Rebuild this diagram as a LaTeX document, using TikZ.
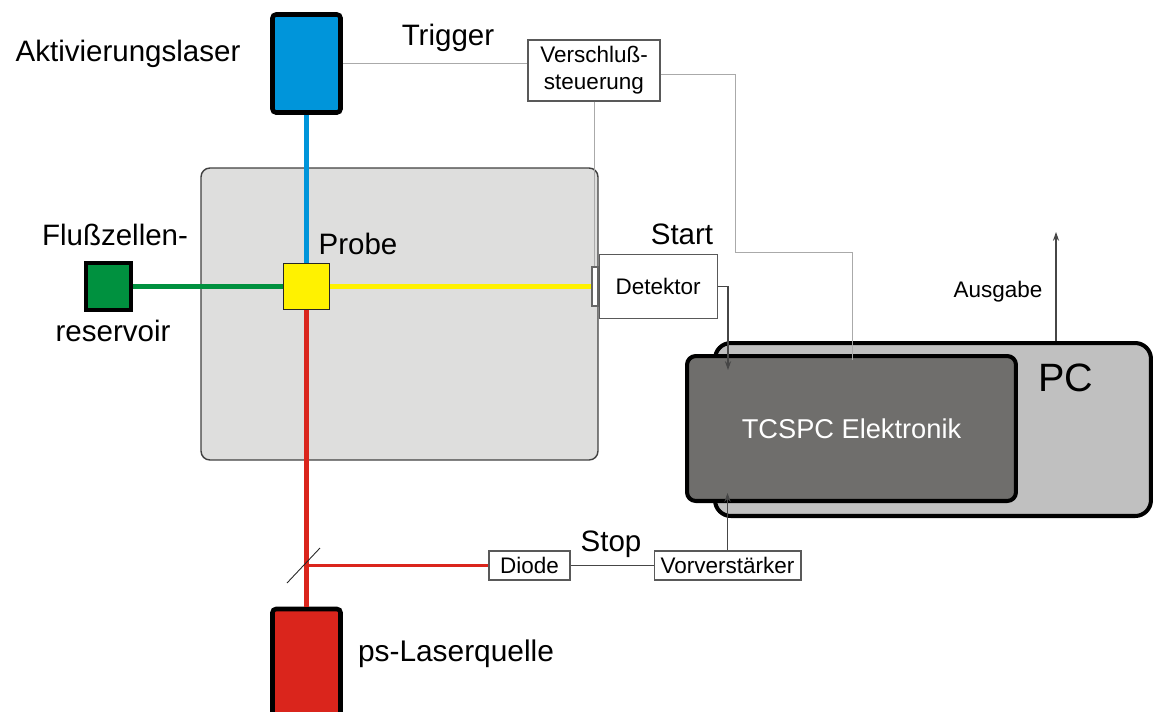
\documentclass[tikz,border=0pt]{standalone}
\usepackage{fontspec}
\setmainfont{Liberation Sans}
\usepackage{tikz}
\usetikzlibrary{arrows.meta,positioning,calc}

\definecolor{laserblue}{RGB}{0,149,218}
\definecolor{laserred}{RGB}{218,37,28}
\definecolor{flowgreen}{RGB}{0,145,63}
\definecolor{probeyellow}{RGB}{255,242,0}
\definecolor{chambergray}{RGB}{222,222,221}
\definecolor{tcspcgray}{RGB}{111,110,108}
\definecolor{pcgray}{RGB}{192,192,192}
\definecolor{wirelight}{RGB}{170,170,170}
\definecolor{wiredark}{RGB}{70,70,70}

\begin{document}
\begin{tikzpicture}[
    x=0.02cm, y=-0.02cm,
    % --- STYLES ---
    laser/.style={
        rectangle, rounded corners=2pt,
        draw=black, line width=2.6pt,
        minimum width=1.36cm, inner sep=0pt
    },
    cube/.style={
        rectangle, draw=black!85,
        inner sep=0pt
    },
    box/.style={
        rectangle, draw=black!65, fill=white,
        line width=0.6pt, inner sep=0pt,
        align=center, font=\fontsize{12.8}{15.4}\selectfont
    },
    device/.style={
        rectangle, draw=black, line width=2.3pt,
        inner sep=0pt
    },
    bigtext/.style={font=\fontsize{16.8}{20}\selectfont, inner sep=0pt},
    smalltext/.style={font=\fontsize{12.8}{15.4}\selectfont, inner sep=0pt},
    beam/.style={line width=2.3pt},
    wire/.style={draw=wirelight, line width=0.5pt},
    signal/.style={draw=wiredark, line width=0.6pt, -{Stealth[length=5pt,width=3.5pt]}}
]

\clip (0,0) rectangle (1153,711);

% ===== 1. PROBENKAMMER =====
\node[rectangle, rounded corners=5pt, draw=black!75, line width=0.8pt,
      fill=chambergray, minimum width=7.94cm, minimum height=5.84cm] (chamber) at (399.5,314) {};

% ===== 2. LASER & PROBE =====
\node[laser, fill=laserblue, minimum height=1.96cm] (alaser) at (306.5,63.5) {};
\node[laser, fill=laserred, minimum height=3.02cm] (plaser) at (306.5,684.5) {};
\node[cube, fill=probeyellow, line width=1.1pt, minimum size=0.92cm] (probe) at (306.5,286.5) {};
\node[cube, fill=flowgreen, draw=black, line width=2.2pt, minimum width=0.9cm, minimum height=0.94cm] (reservoir) at (108.5,286.5) {};

% Detektor mit Verschluss davor
\node[box, draw=black!60, minimum width=0.12cm, minimum height=0.78cm] (shutter) at (595,286.5) {};
\node[box, right=0pt of shutter, minimum width=2.36cm, minimum height=1.28cm] (det) {Detektor};

\node[box, minimum width=2.64cm, minimum height=1.22cm] (vs) at (594,70.5) {Verschluß-\\steuerung};

% ===== 3. ELEKTRONIK =====
\node[device, rounded corners=9pt, fill=pcgray, minimum width=8.72cm, minimum height=3.46cm] (pc) at (933,429.5) {};
\node[device, rounded corners=5pt, fill=tcspcgray, minimum width=6.58cm, minimum height=2.9cm,
      text=white, font=\fontsize{15.5}{18}\selectfont] (tcspc) at (851.5,428.5) {TCSPC Elektronik};

\node[box, minimum width=1.62cm, minimum height=0.58cm] (diode) at (529.5,565.5) {Diode};
\node[box, right=1.66cm of diode, minimum width=2.94cm, minimum height=0.58cm] (vv) {Vorverstärker};

\coordinate (bs) at (plaser.north |- diode.west);
\coordinate (startin) at (728,370);
\coordinate (stopin) at (vv.north |- 0,493);
\coordinate (trigin) at (852,360);
\coordinate (ausgabe) at (1056,232);

% ===== 4. STRAHLEN =====
\draw[beam, laserblue] (alaser.south) -- (probe.north);
\draw[beam, laserred] (plaser.north) -- (probe.south);
\draw[beam, flowgreen] (reservoir.east) -- (probe.west);
\draw[beam, probeyellow] (probe.east) -- (shutter.west);
\draw[laserred, line width=1.2pt] (bs) -- (diode.west);
% Strahlteiler
\draw[black!85, line width=0.5pt] (287,583) -- (320,548);

% ===== 5. SIGNALE =====
\draw[wire] (alaser.east) -- (alaser.east -| vs.west);
\draw[wire] (vs.south) -- (vs.south |- shutter.north);
\draw[wire] ([yshift=-2pt]vs.east) -| (735,252) -| (trigin);

\draw[signal] (det.east) -| (startin);
\draw[signal] (vv.north) -- (stopin);
\draw[draw=wiredark, line width=0.6pt] (diode.east) -- (vv.west);
\draw[signal] (pc.north -| ausgabe) -- (ausgabe);

% ===== 6. BESCHRIFTUNG =====
\node[bigtext] (t_alaser) at (128,54) {Aktivierungslaser};
\node[bigtext] (t_trigger) at (448,38) {Trigger};
\node[bigtext] (t_fluss) at (115,235) {Flußzellen-};
\node[bigtext] (t_res) at (113,331) {reservoir};
\node[bigtext] (t_probe) at (358,244) {Probe};
\node[bigtext] (t_start) at (682,234) {Start};
\node[bigtext] (t_stop) at (611,544) {Stop};
\node[bigtext, font=\fontsize{17}{20}\selectfont] (t_plaser) at (456,654) {ps-Laserquelle};
\node[smalltext] (t_ausgabe) at (998,292) {Ausgabe};
\node[inner sep=0pt, font=\fontsize{22.5}{26}\selectfont] (t_pc) at (1066,378) {PC};

\end{tikzpicture}
\end{document}
